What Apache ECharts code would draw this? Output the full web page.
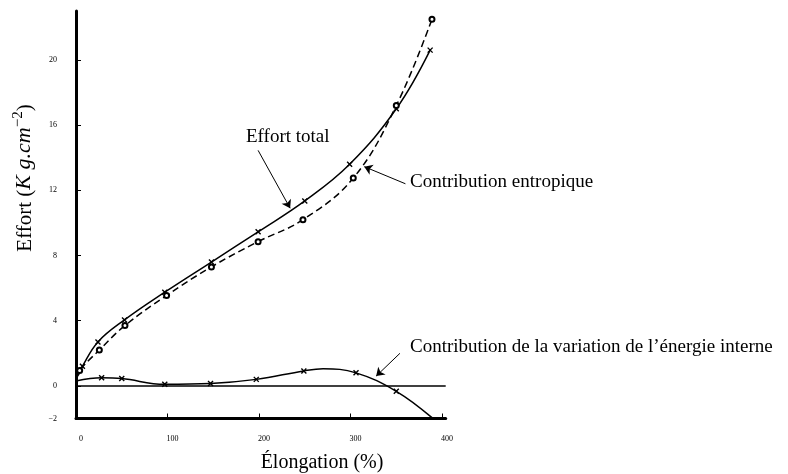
<!DOCTYPE html>
<html>
<head>
<meta charset="utf-8">
<script src="https://cdn.jsdelivr.net/npm/echarts@6/dist/echarts.min.js"></script>
<style>
html,body{margin:0;padding:0;background:#fff;}
#main{width:788px;height:474px;}
</style>
</head>
<body>
<div id="main"></div>
<script>
// ---- data (elongation %, effort Kg.cm^-2) ----
const effortTotal = [[0,0.5],[3,0.7],[7,1.2],[24,2.7],[53,4.05],[97,5.75],[148,7.6],[199,9.45],[250,11.35],[299,13.6],[350,17.0],[387,20.6]];
const contribEntropique = [[0,0.4],[4,0.95],[25.5,2.2],[53.5,3.7],[99,5.55],[148,7.3],[199,8.85],[248,10.2],[303,12.75],[350,17.2],[389,22.5]];
const contribInterne = [[0,0.3],[28,0.5],[50,0.45],[97,0.1],[147,0.15],[197,0.4],[249,0.92],[270,1.05],[306,0.8],[350,-0.33],[389,-1.95]];
const interneNoMarker = [0, 7, 10];
const xTickLabels = [0,100,200,300,400];
const xTicks = [100,200,300,400];
const yTickLabels = [-2,0,4,8,12,16,20];

const labelTotal = 'Effort total';
const labelEntropique = 'Contribution entropique';
const labelInterne = 'Contribution de la variation de l\u2019énergie interne';
const xTitle = 'Élongation (%)';

// annotation arrows in data coordinates [from, to]
const arrowTotal = [[199,14.45],[234,10.9]];
const arrowEntropique = [[360,12.4],[315,13.45]];
const arrowInterne = [[354,2.0],[328,0.6]];

const SERIF = '"Liberation Serif","DejaVu Serif",serif';
const crossSymbol = 'path://M0,0L10,10M10,0L0,10';

function toData(arr, noSymbolIdx) {
  return arr.map((p, i) => noSymbolIdx.includes(i) ? {value: p, symbol: 'none'} : p);
}
function arrowLine(a) {
  return {
    silent: true,
    symbol: ['none', 'arrow'],
    symbolSize: 8,
    label: {show: false},
    lineStyle: {color: '#000', width: 1, type: 'solid'},
    itemStyle: {color: '#000'},
    data: [[{coord: a[0]}, {coord: a[1]}]]
  };
}

const chart = echarts.init(document.getElementById('main'), null, {renderer: 'canvas'});
chart.setOption({
  animation: false,
  backgroundColor: '#fff',
  grid: {left: 76, top: 11, width: 369.7, height: 407.5, outerBoundsMode: 'none'},
  xAxis: {
    type: 'value', min: 0, max: 404,
    axisLine: {show: true, onZero: false, lineStyle: {color: '#000', width: 3}},
    axisTick: {show: true, inside: true, length: 5, customValues: xTicks, lineStyle: {color: '#000', width: 1}},
    axisLabel: {customValues: xTickLabels, color: '#000', fontSize: 8, fontFamily: SERIF, margin: 16, padding: [0,0,0,10]},
    splitLine: {show: false}
  },
  yAxis: {
    type: 'value', min: -2, max: 23,
    axisLine: {show: true, onZero: false, lineStyle: {color: '#000', width: 3}},
    axisTick: {show: true, inside: true, length: 5, customValues: yTickLabels, lineStyle: {color: '#000', width: 1}},
    axisLabel: {customValues: yTickLabels, color: '#000', fontSize: 8, fontFamily: SERIF, margin: 19,
      formatter: v => v < 0 ? '\u2212' + Math.abs(v) : String(v)},
    splitLine: {show: false}
  },
  series: [
    {
      name: labelTotal, type: 'line', smooth: 0.4,
      data: toData(effortTotal, [0,1]),
      symbol: crossSymbol, symbolSize: 5,
      itemStyle: {color: '#000', borderColor: '#000', borderWidth: 1.4},
      lineStyle: {color: '#000', width: 1.5},
      markLine: arrowLine(arrowTotal)
    },
    {
      name: labelEntropique, type: 'line', smooth: 0.4,
      data: toData(contribEntropique, [0]),
      symbol: 'emptyCircle', symbolSize: 5,
      itemStyle: {color: '#000', borderWidth: 0.8},
      lineStyle: {color: '#000', width: 1.5, type: [7, 4]},
      markLine: arrowLine(arrowEntropique)
    },
    {
      name: labelInterne, type: 'line', smooth: 0.4,
      data: toData(contribInterne, interneNoMarker),
      symbol: crossSymbol, symbolSize: 5,
      itemStyle: {color: '#000', borderColor: '#000', borderWidth: 1.4},
      lineStyle: {color: '#000', width: 1.5},
      markLine: {
        silent: true, symbol: ['none','none'], label: {show: false},
        lineStyle: {color: '#000', width: 1.5, type: 'solid'},
        data: [{yAxis: 0}]
      }
    },
    {
      type: 'line', data: [], silent: true,
      markLine: arrowLine(arrowInterne)
    }
  ],
  graphic: [
    {type: 'text', x: 246, y: 137, silent: true,
      style: {text: labelTotal, fill: '#000', font: '19px ' + SERIF, align: 'left', verticalAlign: 'middle'}},
    {type: 'text', x: 410, y: 182, silent: true,
      style: {text: labelEntropique, fill: '#000', font: '19px ' + SERIF, align: 'left', verticalAlign: 'middle'}},
    {type: 'text', x: 410, y: 347, silent: true,
      style: {text: labelInterne, fill: '#000', font: '19px ' + SERIF, align: 'left', verticalAlign: 'middle'}},
    {type: 'text', x: 322, y: 463, silent: true,
      style: {text: xTitle, fill: '#000', font: '20px ' + SERIF, align: 'center', verticalAlign: 'middle'}},
    {type: 'text', x: 23, y: 178, rotation: Math.PI / 2, silent: true,
      style: {
        text: '{n|Effort (}{i|K g.cm}{s|\u22122}{n|)}',
        align: 'center', verticalAlign: 'middle', fill: '#000',
        rich: {
          n: {fontFamily: SERIF, fontSize: 21, lineHeight: 25, fill: '#000', verticalAlign: 'bottom'},
          i: {fontFamily: SERIF, fontSize: 22, fontStyle: 'italic', lineHeight: 25, fill: '#000', verticalAlign: 'bottom'},
          s: {fontFamily: SERIF, fontSize: 15, lineHeight: 15, fill: '#000', verticalAlign: 'top'}
        }
      }}
  ]
});
</script>
</body>
</html>
